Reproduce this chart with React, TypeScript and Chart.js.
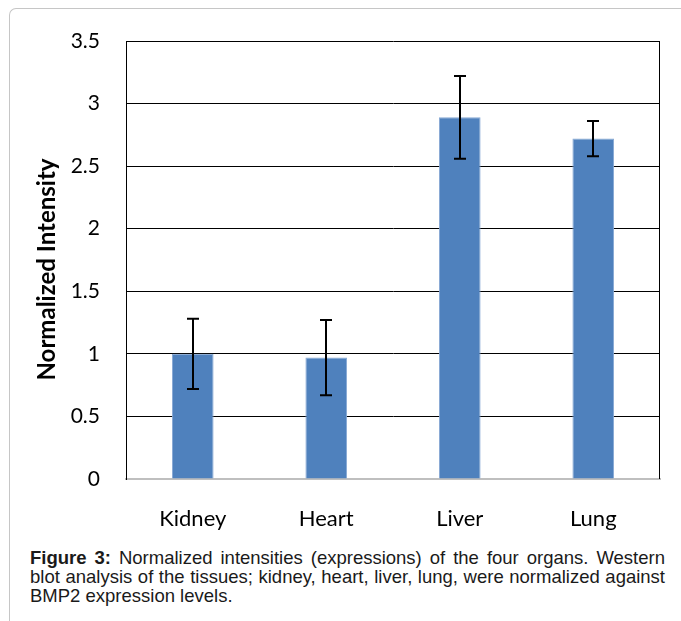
import React, { useEffect, useRef } from 'react';
import { Chart, registerables } from 'chart.js';

Chart.register(...registerables);

// ---- data ----
const categories = ['Kidney', 'Heart', 'Liver', 'Lung'];
const intensity = [1.0, 0.97, 2.89, 2.72];
const errors = [0.28, 0.3, 0.33, 0.14];
const yMin = 0;
const yMax = 3.5;
const yStep = 0.5;
const yTitle = 'Normalized Intensity';
const captionBold = 'Figure 3:';
const captionLine1 = ' Normalized intensities (expressions) of the four organs. Western';
const captionLine2 = 'blot analysis of the tissues; kidney, heart, liver, lung, were normalized against';
const captionLine3 = 'BMP2 expression levels.';

const errorBarPlugin = {
  id: 'errorBars',
  afterDatasetsDraw(chart: any) {
    const ctx = chart.ctx;
    const meta = chart.getDatasetMeta(0);
    const y = chart.scales.y;
    ctx.save();
    ctx.strokeStyle = '#000';
    ctx.lineWidth = 2;
    meta.data.forEach((bar: any, i: number) => {
      const v = intensity[i];
      const e = errors[i];
      const x = Math.round(bar.x);
      const yt = y.getPixelForValue(v + e);
      const yb = y.getPixelForValue(v - e);
      ctx.beginPath();
      ctx.moveTo(x, yt);
      ctx.lineTo(x, yb);
      ctx.moveTo(x - 6, yt);
      ctx.lineTo(x + 6, yt);
      ctx.moveTo(x - 6, yb);
      ctx.lineTo(x + 6, yb);
      ctx.stroke();
    });
    ctx.restore();
  },
};

const framePlugin = {
  id: 'frameAndTitle',
  beforeDatasetsDraw(chart: any) {
    const { ctx, chartArea } = chart;
    ctx.save();
    ctx.strokeStyle = '#000';
    ctx.lineWidth = 1;
    ctx.beginPath();
    const xr = Math.round(chartArea.right) - 0.5;
    ctx.moveTo(xr, chartArea.top);
    ctx.lineTo(xr, chartArea.bottom);
    ctx.stroke();
    ctx.restore();
  },
  afterDraw(chart: any) {
    const ctx = chart.ctx;
    ctx.save();
    ctx.font = 'bold 24px Lato';
    ctx.fillStyle = '#000';
    ctx.translate(55, 269.5);
    ctx.rotate(-Math.PI / 2);
    ctx.textAlign = 'center';
    ctx.textBaseline = 'alphabetic';
    ctx.fillText(yTitle, 0, 0);
    ctx.restore();
  },
};

export default function App() {
  const canvasRef = useRef<HTMLCanvasElement | null>(null);

  useEffect(() => {
    document.body.style.overflow = 'hidden';
    const canvas = canvasRef.current;
    if (!canvas) return;
    const chart = new Chart(canvas, {
      type: 'bar',
      data: {
        labels: categories,
        datasets: [
          {
            data: intensity,
            backgroundColor: '#4F81BD',
            borderColor: '#86a8d4',
            borderWidth: 1,
            barPercentage: 0.312,
            categoryPercentage: 1,
          },
        ],
      },
      options: {
        responsive: false,
        animation: false,
        devicePixelRatio: 1,
        layout: { padding: { left: 0, top: 41, right: 21, bottom: 0 } },
        plugins: {
          legend: { display: false },
          tooltip: { enabled: false },
          title: { display: false },
        },
        scales: {
          x: {
            grid: { display: false, drawTicks: false },
            border: { display: true, color: '#bfbfbf', width: 2 },
            ticks: {
              color: '#000',
              font: { family: 'Lato', size: 22 },
              padding: 27,
            },
            afterFit(scale: any) {
              scale.height = 51;
            },
          },
          y: {
            min: yMin,
            max: yMax,
            ticks: {
              stepSize: yStep,
              color: '#000',
              font: { family: 'Lato', size: 21 },
              padding: 26,
              callback: (v: any) => String(v),
            },
            grid: {
              drawTicks: false,
              color: (c: any) => (c.tick && c.tick.value === 0 ? 'rgba(0,0,0,0)' : '#000'),
              lineWidth: 1,
            },
            border: { display: true, color: '#000', width: 1 },
            afterFit(scale: any) {
              scale.width = 126;
            },
          },
        },
      },
      plugins: [errorBarPlugin, framePlugin],
    });
    return () => chart.destroy();
  }, []);

  return (
    <div>
      <div
        style={{
          position: 'fixed',
          left: 9,
          top: 8,
          right: -30,
          bottom: -30,
          borderTop: '1px solid #c6c6c6',
          borderLeft: '1px solid #c6c6c6',
          borderTopLeftRadius: 7,
          background: '#fff',
        }}
      />
      <div style={{ position: 'fixed', left: 0, top: 0, width: 681, height: 530 }}>
        <canvas ref={canvasRef} width={681} height={530} style={{ display: 'block' }} />
      </div>
      <div
        style={{
          position: 'fixed',
          left: 30,
          top: 548,
          width: 635,
          fontFamily: '"Liberation Sans", Arial, sans-serif',
          fontSize: 18.5,
          lineHeight: '19px',
          color: '#1a1a1a',
        }}
      >
        <div style={{ textAlign: 'justify', textAlignLast: 'justify' }}>
          <b>{captionBold}</b>
          {captionLine1}
        </div>
        <div style={{ textAlign: 'justify', textAlignLast: 'justify' }}>{captionLine2}</div>
        <div style={{ textAlign: 'left' }}>{captionLine3}</div>
      </div>
    </div>
  );
}
